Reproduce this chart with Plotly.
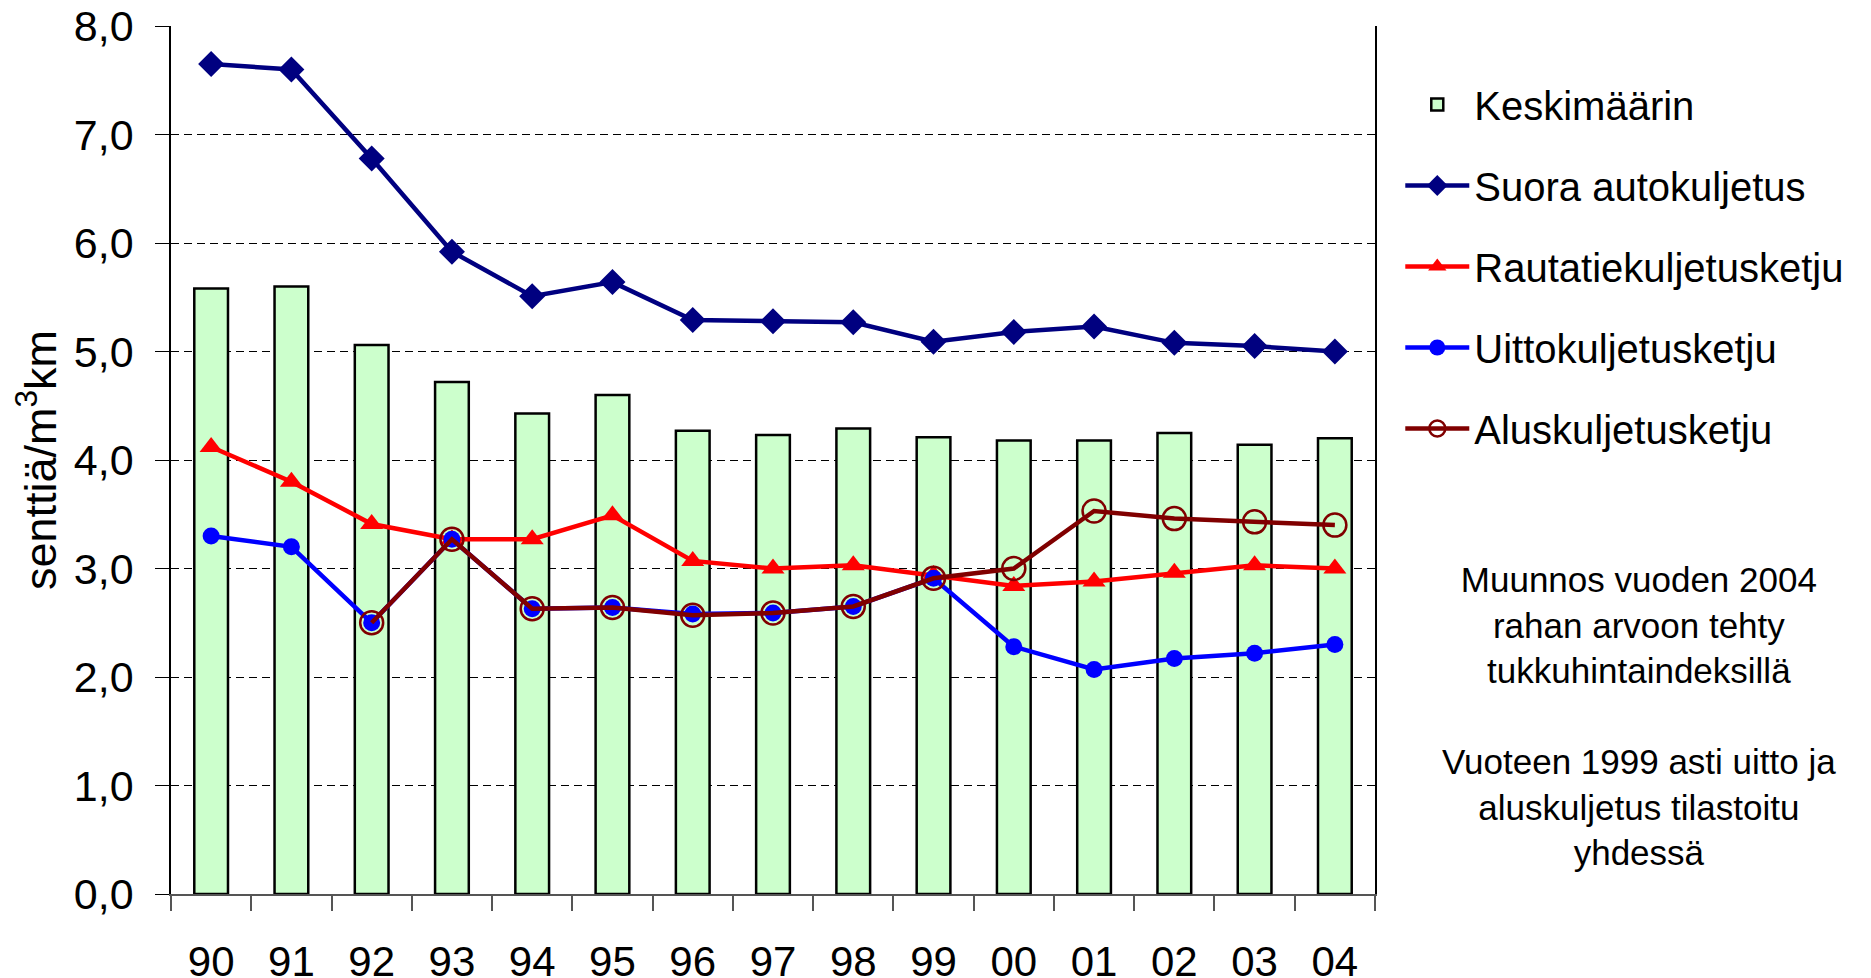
import plotly.graph_objects as go

years = ['90', '91', '92', '93', '94', '95', '96', '97', '98', '99', '00', '01', '02', '03', '04']

keskimaarin = [5.58, 5.60, 5.06, 4.72, 4.43, 4.60, 4.27, 4.23, 4.29, 4.21, 4.18, 4.18, 4.25, 4.14, 4.20]
suora = [7.65, 7.60, 6.78, 5.92, 5.51, 5.64, 5.29, 5.28, 5.27, 5.09, 5.18, 5.23, 5.08, 5.05, 5.00]
rautatie = [4.12, 3.80, 3.41, 3.27, 3.27, 3.49, 3.07, 3.00, 3.03, 2.94, 2.84, 2.88, 2.96, 3.03, 3.00]
uitto = [3.30, 3.20, 2.50, 3.27, 2.63, 2.64, 2.58, 2.59, 2.65, 2.91, 2.28, 2.07, 2.17, 2.22, 2.30]
alus = [None, None, 2.50, 3.27, 2.63, 2.64, 2.57, 2.59, 2.65, 2.91, 3.00, 3.53, 3.46, 3.43, 3.40]

note = ('Muunnos vuoden 2004<br>rahan arvoon tehty<br>tukkuhintaindeksillä<br> <br>'
        'Vuoteen 1999 asti uitto ja<br>aluskuljetus tilastoitu<br>yhdessä')

FONT = 'Liberation Sans, Arial, sans-serif'

fig = go.Figure()
fig.add_trace(go.Bar(x=years, y=keskimaarin, name='Keskimäärin', width=0.42,
                     marker=dict(color='#CCFFCC', line=dict(color='black', width=2.5)),
                     legendgroup='a'))
fig.add_trace(go.Scatter(x=years, y=suora, name='Suora autokuljetus', mode='lines+markers',
                         line=dict(color='#000080', width=4.5),
                         marker=dict(symbol='diamond', size=20, color='#000080'),
                         legendgroup='b'))
fig.add_trace(go.Scatter(x=years, y=rautatie, name='Rautatiekuljetusketju', mode='lines+markers',
                         line=dict(color='#FF0000', width=4.5),
                         marker=dict(symbol='triangle-up', size=20, color='#FF0000'),
                         legendgroup='c'))
fig.add_trace(go.Scatter(x=years, y=uitto, name='Uittokuljetusketju', mode='lines+markers',
                         line=dict(color='#0000FF', width=4.5),
                         marker=dict(symbol='circle', size=17, color='#0000FF'),
                         legendgroup='d'))
fig.add_trace(go.Scatter(x=years, y=alus, name='Aluskuljetusketju', mode='lines+markers',
                         line=dict(color='#800000', width=4.5),
                         marker=dict(symbol='circle-open', size=23, color='#800000',
                                     line=dict(width=2.5)),
                         legendgroup='e'))

fig.update_xaxes(type='category', range=[-0.5, 14.5], automargin=False,
                 showline=True, linecolor='#555555', linewidth=2,
                 ticks='outside', tickson='boundaries', ticklen=15, tickcolor='#555555',
                 tickwidth=2, showgrid=False, ticklabelstandoff=30, ticklabeloverflow='allow',
                 tickfont=dict(size=42, color='black', family=FONT))
fig.update_yaxes(range=[0, 8.0005], dtick=1, tickformat='.1f', automargin=False,
                 showline=True, linecolor='black',
                 linewidth=1.5, mirror=True, ticks='outside', ticklen=14, tickcolor='black',
                 showgrid=True, gridcolor='black', gridwidth=1, griddash='8px,5px',
                 zeroline=False, ticklabelstandoff=13, ticklabeloverflow='allow',
                 tickfont=dict(size=43, color='black', family=FONT),
                 title=dict(text='senttiä/m<sup>3</sup>km', standoff=6,
                            font=dict(size=45, color='black', family=FONT)))

# page body adds an 8px offset, so the figure is 8px smaller and margins are trimmed
fig.update_layout(
    width=1863, height=970,
    separators=', ',
    plot_bgcolor='white', paper_bgcolor='white',
    margin=dict(l=163, r=496, t=18, b=84),
    font=dict(family=FONT, color='black'),
    legend=dict(x=1.021, y=0.947, xanchor='left', yanchor='top', tracegroupgap=26,
                itemwidth=64,
                font=dict(size=40, color='black', family=FONT), bgcolor='rgba(0,0,0,0)'),
    annotations=[dict(text=note, xref='paper', yref='paper', x=1.219, y=0.205,
                      xanchor='center', yanchor='middle', align='center', showarrow=False,
                      font=dict(size=35, color='black', family=FONT))],
)

fig.write_html('out.html')
